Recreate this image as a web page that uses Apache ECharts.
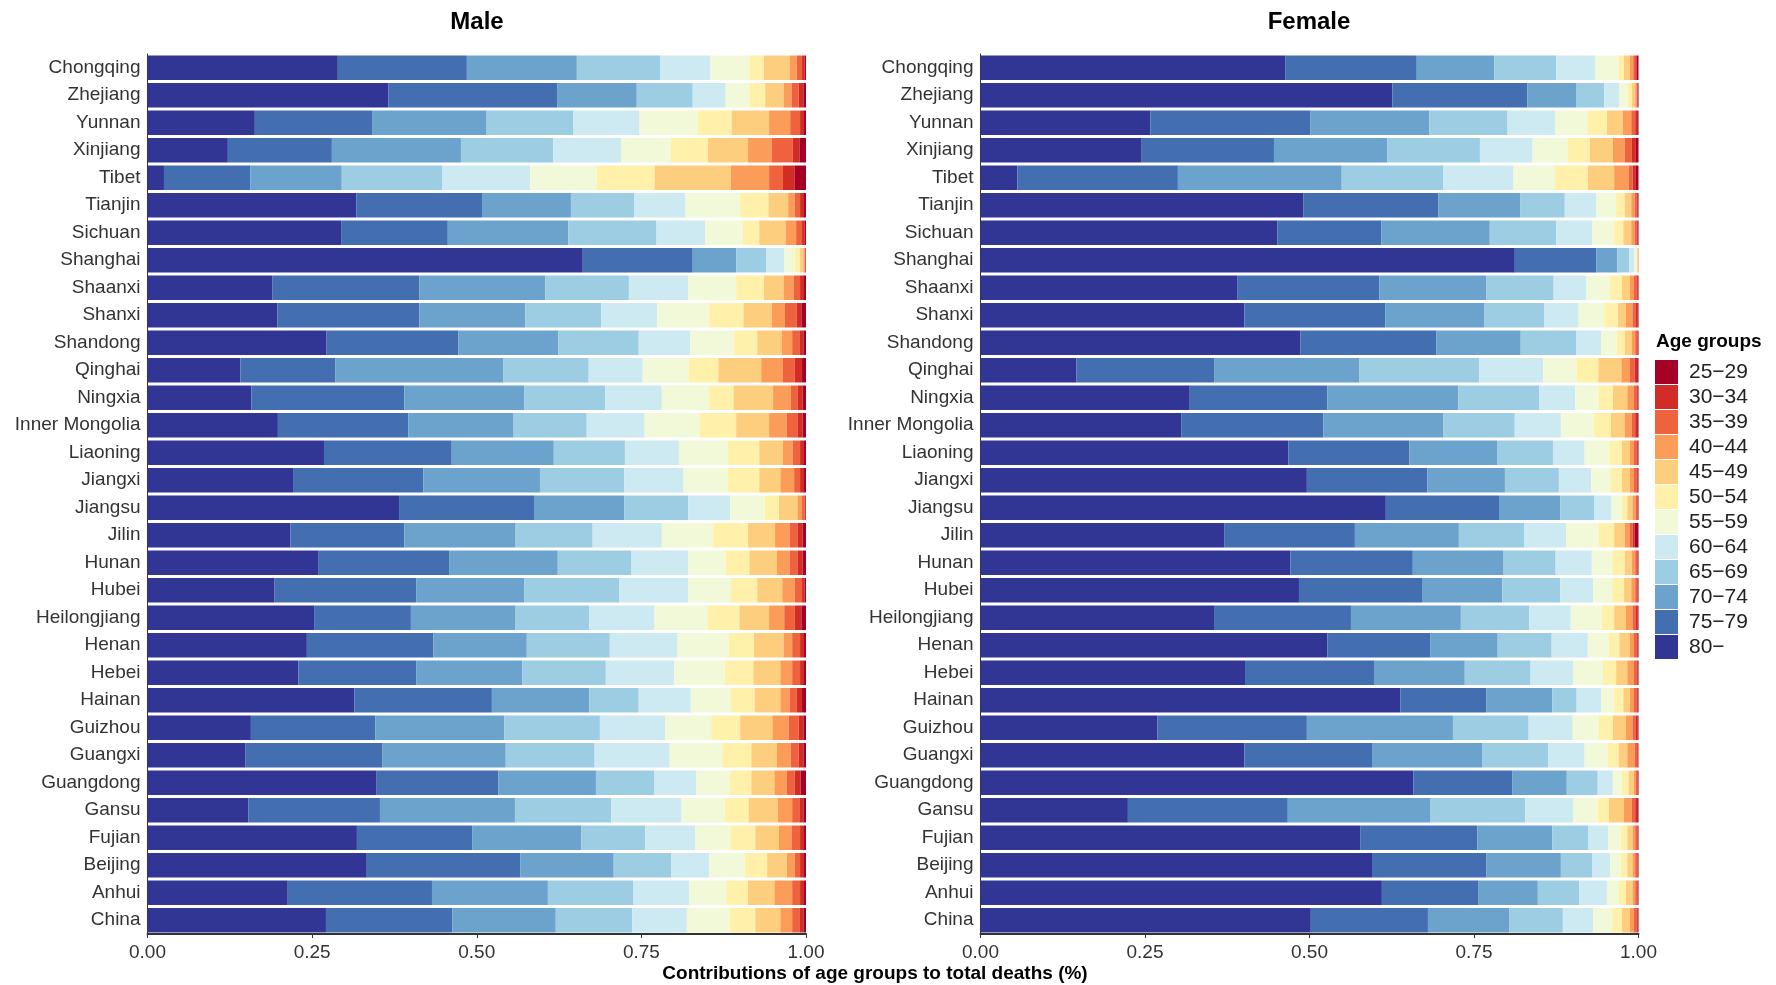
<!DOCTYPE html>
<html>
<head>
<meta charset="utf-8">
<title>Contributions of age groups to total deaths</title>
<script src="https://cdn.jsdelivr.net/npm/echarts@6/dist/echarts.min.js"></script>
<style>
  html, body { margin: 0; padding: 0; background: #ffffff; }
  #chart { width: 1776px; height: 985px; }
</style>
</head>
<body>
<div id="chart"></div>
<script>
// Provinces, top to bottom
const provinces = ['Chongqing', 'Zhejiang', 'Yunnan', 'Xinjiang', 'Tibet', 'Tianjin', 'Sichuan', 'Shanghai',
  'Shaanxi', 'Shanxi', 'Shandong', 'Qinghai', 'Ningxia', 'Inner Mongolia', 'Liaoning', 'Jiangxi',
  'Jiangsu', 'Jilin', 'Hunan', 'Hubei', 'Heilongjiang', 'Henan', 'Hebei', 'Hainan',
  'Guizhou', 'Guangxi', 'Guangdong', 'Gansu', 'Fujian', 'Beijing', 'Anhui', 'China'];

// Age groups in stacking order (left to right)
const ageGroups = ['80\u2212', '75\u221279', '70\u221274', '65\u221269', '60\u221264', '55\u221259',
  '50\u221254', '45\u221249', '40\u221244', '35\u221239', '30\u221234', '25\u221229'];

const ageColors = ['#313695', '#436fb1', '#6ba3cc', '#9ccde2', '#cde9f2', '#f1f9d9',
  '#fff1aa', '#fece7f', '#fb9c59', '#ef623e', '#d22c27', '#a50026'];

const xTicks = [0, 0.25, 0.5, 0.75, 1];

// Share of deaths per age group, one row per province (same order as ageGroups)
const male = [
  [0.289, 0.196, 0.167, 0.127, 0.076, 0.059, 0.022, 0.039, 0.011, 0.008, 0.004, 0.002],
  [0.366, 0.256, 0.121, 0.085, 0.050, 0.036, 0.024, 0.028, 0.012, 0.011, 0.007, 0.004],
  [0.163, 0.178, 0.174, 0.132, 0.100, 0.089, 0.051, 0.057, 0.032, 0.015, 0.006, 0.003],
  [0.122, 0.158, 0.196, 0.140, 0.103, 0.076, 0.056, 0.061, 0.036, 0.032, 0.010, 0.010],
  [0.025, 0.131, 0.139, 0.153, 0.133, 0.101, 0.088, 0.116, 0.058, 0.021, 0.018, 0.017],
  [0.317, 0.191, 0.135, 0.096, 0.078, 0.083, 0.043, 0.030, 0.010, 0.008, 0.006, 0.003],
  [0.294, 0.162, 0.183, 0.134, 0.074, 0.057, 0.025, 0.040, 0.016, 0.009, 0.004, 0.002],
  [0.661, 0.167, 0.066, 0.046, 0.027, 0.016, 0.008, 0.005, 0.002, 0.001, 0.0005, 0.0005],
  [0.190, 0.223, 0.191, 0.127, 0.090, 0.073, 0.042, 0.030, 0.015, 0.010, 0.006, 0.003],
  [0.197, 0.216, 0.161, 0.115, 0.085, 0.079, 0.052, 0.043, 0.020, 0.018, 0.007, 0.007],
  [0.272, 0.200, 0.152, 0.122, 0.078, 0.067, 0.035, 0.037, 0.016, 0.011, 0.006, 0.004],
  [0.141, 0.144, 0.255, 0.130, 0.082, 0.070, 0.045, 0.065, 0.033, 0.018, 0.011, 0.006],
  [0.158, 0.232, 0.182, 0.123, 0.086, 0.072, 0.037, 0.060, 0.027, 0.010, 0.008, 0.005],
  [0.198, 0.198, 0.160, 0.111, 0.088, 0.083, 0.056, 0.050, 0.027, 0.016, 0.008, 0.005],
  [0.268, 0.194, 0.155, 0.108, 0.082, 0.074, 0.048, 0.036, 0.015, 0.011, 0.006, 0.003],
  [0.221, 0.198, 0.177, 0.128, 0.090, 0.067, 0.048, 0.032, 0.021, 0.009, 0.006, 0.003],
  [0.382, 0.206, 0.136, 0.097, 0.064, 0.052, 0.022, 0.028, 0.007, 0.004, 0.001, 0.001],
  [0.217, 0.173, 0.169, 0.117, 0.105, 0.078, 0.053, 0.041, 0.022, 0.012, 0.008, 0.005],
  [0.260, 0.198, 0.165, 0.112, 0.086, 0.057, 0.036, 0.042, 0.019, 0.012, 0.008, 0.005],
  [0.193, 0.215, 0.164, 0.144, 0.105, 0.065, 0.040, 0.038, 0.019, 0.011, 0.004, 0.002],
  [0.253, 0.147, 0.159, 0.112, 0.099, 0.080, 0.049, 0.045, 0.023, 0.016, 0.010, 0.007],
  [0.242, 0.192, 0.142, 0.126, 0.103, 0.078, 0.038, 0.045, 0.013, 0.012, 0.006, 0.003],
  [0.229, 0.179, 0.161, 0.127, 0.104, 0.077, 0.043, 0.041, 0.018, 0.012, 0.006, 0.003],
  [0.314, 0.209, 0.148, 0.075, 0.079, 0.061, 0.036, 0.039, 0.014, 0.011, 0.008, 0.006],
  [0.157, 0.189, 0.196, 0.145, 0.099, 0.070, 0.044, 0.049, 0.025, 0.015, 0.007, 0.004],
  [0.149, 0.208, 0.187, 0.135, 0.114, 0.080, 0.044, 0.039, 0.021, 0.012, 0.007, 0.004],
  [0.348, 0.185, 0.148, 0.089, 0.063, 0.051, 0.033, 0.035, 0.019, 0.012, 0.009, 0.008],
  [0.153, 0.200, 0.205, 0.146, 0.107, 0.066, 0.036, 0.044, 0.022, 0.011, 0.006, 0.004],
  [0.318, 0.175, 0.166, 0.097, 0.076, 0.053, 0.038, 0.036, 0.019, 0.013, 0.006, 0.003],
  [0.333, 0.233, 0.142, 0.087, 0.058, 0.054, 0.034, 0.030, 0.012, 0.008, 0.006, 0.003],
  [0.213, 0.219, 0.176, 0.130, 0.085, 0.056, 0.033, 0.040, 0.027, 0.012, 0.006, 0.003],
  [0.271, 0.192, 0.157, 0.116, 0.083, 0.065, 0.039, 0.038, 0.018, 0.011, 0.006, 0.004]
];

const female = [
  [0.463, 0.200, 0.118, 0.094, 0.059, 0.036, 0.008, 0.009, 0.005, 0.003, 0.002, 0.003],
  [0.626, 0.205, 0.074, 0.043, 0.023, 0.012, 0.007, 0.005, 0.002, 0.001, 0.001, 0.001],
  [0.258, 0.243, 0.181, 0.119, 0.072, 0.049, 0.030, 0.024, 0.013, 0.006, 0.003, 0.002],
  [0.245, 0.201, 0.172, 0.141, 0.080, 0.053, 0.034, 0.035, 0.018, 0.011, 0.006, 0.004],
  [0.056, 0.244, 0.249, 0.154, 0.107, 0.063, 0.050, 0.040, 0.022, 0.006, 0.005, 0.004],
  [0.491, 0.205, 0.124, 0.068, 0.048, 0.030, 0.013, 0.010, 0.005, 0.003, 0.002, 0.001],
  [0.451, 0.158, 0.165, 0.101, 0.055, 0.033, 0.014, 0.012, 0.005, 0.003, 0.002, 0.001],
  [0.812, 0.124, 0.032, 0.018, 0.008, 0.003, 0.001, 0.001, 0.001, 0.000, 0.000, 0.000],
  [0.390, 0.216, 0.163, 0.102, 0.050, 0.035, 0.019, 0.012, 0.006, 0.004, 0.002, 0.001],
  [0.401, 0.214, 0.151, 0.091, 0.052, 0.039, 0.021, 0.012, 0.010, 0.005, 0.003, 0.001],
  [0.486, 0.207, 0.128, 0.084, 0.038, 0.024, 0.012, 0.011, 0.005, 0.003, 0.001, 0.001],
  [0.146, 0.209, 0.221, 0.182, 0.097, 0.051, 0.033, 0.035, 0.013, 0.007, 0.004, 0.002],
  [0.318, 0.209, 0.199, 0.123, 0.055, 0.036, 0.021, 0.022, 0.010, 0.004, 0.002, 0.001],
  [0.305, 0.216, 0.182, 0.109, 0.070, 0.050, 0.026, 0.021, 0.011, 0.005, 0.003, 0.002],
  [0.468, 0.184, 0.133, 0.085, 0.048, 0.038, 0.019, 0.012, 0.006, 0.004, 0.002, 0.001],
  [0.496, 0.183, 0.118, 0.082, 0.049, 0.030, 0.017, 0.012, 0.006, 0.004, 0.002, 0.001],
  [0.616, 0.172, 0.093, 0.052, 0.026, 0.016, 0.008, 0.008, 0.005, 0.002, 0.001, 0.001],
  [0.371, 0.198, 0.158, 0.099, 0.064, 0.050, 0.023, 0.016, 0.008, 0.004, 0.003, 0.006],
  [0.471, 0.186, 0.138, 0.079, 0.055, 0.031, 0.019, 0.011, 0.005, 0.003, 0.001, 0.001],
  [0.484, 0.187, 0.122, 0.088, 0.050, 0.029, 0.018, 0.011, 0.006, 0.003, 0.001, 0.001],
  [0.356, 0.207, 0.167, 0.104, 0.063, 0.047, 0.019, 0.018, 0.010, 0.005, 0.003, 0.001],
  [0.527, 0.157, 0.102, 0.082, 0.055, 0.032, 0.016, 0.016, 0.006, 0.004, 0.002, 0.001],
  [0.402, 0.196, 0.138, 0.100, 0.065, 0.045, 0.020, 0.017, 0.010, 0.004, 0.002, 0.001],
  [0.638, 0.131, 0.100, 0.037, 0.037, 0.020, 0.014, 0.010, 0.006, 0.004, 0.002, 0.001],
  [0.269, 0.227, 0.222, 0.115, 0.067, 0.040, 0.021, 0.020, 0.010, 0.005, 0.003, 0.001],
  [0.401, 0.195, 0.167, 0.100, 0.055, 0.035, 0.017, 0.013, 0.011, 0.004, 0.002, 0.001],
  [0.658, 0.150, 0.083, 0.047, 0.023, 0.014, 0.010, 0.008, 0.003, 0.002, 0.001, 0.001],
  [0.224, 0.243, 0.217, 0.144, 0.073, 0.037, 0.017, 0.023, 0.012, 0.005, 0.003, 0.002],
  [0.577, 0.178, 0.114, 0.055, 0.030, 0.019, 0.010, 0.008, 0.004, 0.003, 0.001, 0.001],
  [0.595, 0.174, 0.113, 0.048, 0.027, 0.016, 0.010, 0.008, 0.004, 0.003, 0.001, 0.001],
  [0.610, 0.147, 0.090, 0.063, 0.042, 0.018, 0.011, 0.010, 0.004, 0.003, 0.001, 0.001],
  [0.502, 0.178, 0.124, 0.081, 0.046, 0.029, 0.015, 0.012, 0.006, 0.004, 0.002, 0.001]
];

const FONT = '"Liberation Sans", Arial, Helvetica, sans-serif';
const INK = '#333333';

const chart = echarts.init(document.getElementById('chart'), null, { renderer: 'canvas' });

function yAxisFor(gridIndex) {
  return {
    type: 'category',
    gridIndex: gridIndex,
    data: provinces,
    inverse: true,
    axisLine: { show: true, lineStyle: { color: INK, width: 1 } },
    axisTick: { show: false },
    axisLabel: { color: INK, fontSize: 19, fontFamily: FONT, margin: 7 },
    splitLine: { show: false }
  };
}

function xAxisFor(gridIndex) {
  return {
    type: 'value',
    gridIndex: gridIndex,
    min: xTicks[0],
    max: xTicks[xTicks.length - 1],
    interval: xTicks[1] - xTicks[0],
    axisLine: { show: true, onZero: false, lineStyle: { color: INK, width: 2 } },
    axisTick: { show: true, length: 4, lineStyle: { color: INK, width: 1 } },
    axisLabel: {
      color: INK, fontSize: 19, fontFamily: FONT, margin: 9,
      formatter: v => v.toFixed(2)
    },
    splitLine: { show: false }
  };
}

function panelSeries(rows, idx, stackName) {
  return ageGroups.map((g, k) => ({
    name: g,
    type: 'bar',
    stack: stackName,
    xAxisIndex: idx,
    yAxisIndex: idx,
    barCategoryGap: '11%',
    itemStyle: { color: ageColors[k] },
    emphasis: { disabled: true },
    data: rows.map(r => r[k])
  }));
}

const option = {
  backgroundColor: '#ffffff',
  animation: false,
  textStyle: { fontFamily: FONT },
  grid: [
    { left: 147.5, top: 54, width: 658.5, height: 880 },
    { left: 980.5, top: 54, width: 658, height: 880 }
  ],
  xAxis: [xAxisFor(0), xAxisFor(1)],
  yAxis: [yAxisFor(0), yAxisFor(1)],
  legend: {
    orient: 'vertical',
    left: 1655,
    top: 360,
    padding: 0,
    itemWidth: 23,
    itemHeight: 24,
    itemGap: 1,
    icon: 'rect',
    selectedMode: false,
    data: ageGroups.slice().reverse(),
    textStyle: { color: '#222222', fontSize: 21, fontFamily: FONT, padding: [0, 0, 0, 6] }
  },
  graphic: [
    {
      type: 'text', x: 477, y: 22,
      style: { text: 'Male', font: 'bold 24px ' + FONT, fill: '#000', textAlign: 'center', textVerticalAlign: 'middle' }
    },
    {
      type: 'text', x: 1309, y: 22,
      style: { text: 'Female', font: 'bold 24px ' + FONT, fill: '#000', textAlign: 'center', textVerticalAlign: 'middle' }
    },
    {
      type: 'text', x: 875, y: 974,
      style: { text: 'Contributions of age groups to total deaths (%)', font: 'bold 19px ' + FONT, fill: '#000', textAlign: 'center', textVerticalAlign: 'middle' }
    },
    {
      type: 'text', x: 1656, y: 342,
      style: { text: 'Age groups', font: 'bold 19px ' + FONT, fill: '#000', textAlign: 'left', textVerticalAlign: 'middle' }
    }
  ],
  series: panelSeries(male, 0, 'male').concat(panelSeries(female, 1, 'female'))
};

chart.setOption(option);
</script>
</body>
</html>
